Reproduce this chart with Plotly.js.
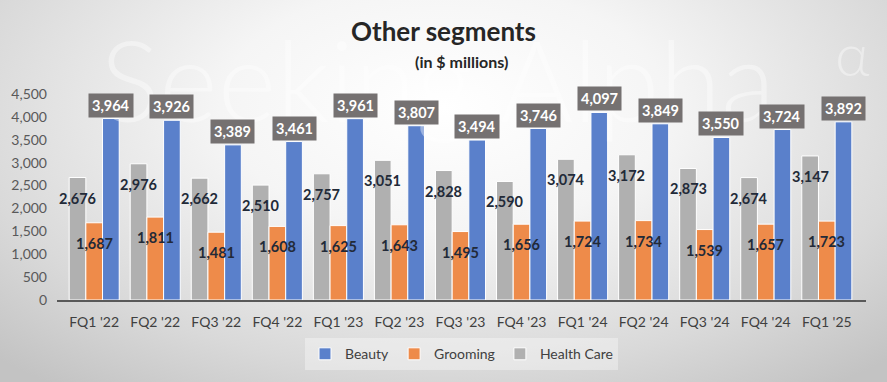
<!DOCTYPE html>
<html>
<head>
<meta charset="utf-8">
<script src="https://cdn.plot.ly/plotly-3.0.1.min.js"></script>
<style>
html,body{margin:0;padding:0;}
body{width:887px;height:382px;overflow:hidden;
background: radial-gradient(ellipse 72% 92% at 50% 28%, #ffffff 0%, #f5f5f5 35%, #d9d9d9 75%, #c3c3c3 100%);}
#chart{width:887px;height:382px;}
</style>
</head>
<body>
<div id="chart"></div>
<script>
var quarters = ["FQ1 '22","FQ2 '22","FQ3 '22","FQ4 '22","FQ1 '23","FQ2 '23","FQ3 '23","FQ4 '23","FQ1 '24","FQ2 '24","FQ3 '24","FQ4 '24","FQ1 '25"];
var beauty = [3964,3926,3389,3461,3961,3807,3494,3746,4097,3849,3550,3724,3892];
var grooming = [1687,1811,1481,1608,1625,1643,1495,1656,1724,1734,1539,1657,1723];
var healthCare = [2676,2976,2662,2510,2757,3051,2828,2590,3074,3172,2873,2674,3147];

var FONT = "Lato, 'Open Sans', sans-serif";
var bargap = 0.18;
var off = (1 - bargap) / 3;

function fmt(v){ return v.toLocaleString('en-US'); }

var traces = [
  {type:'bar', name:'Health Care', x:quarters, y:healthCare,
   marker:{color:'#b0b0b0', line:{color:'#ffffff', width:1}}, hoverinfo:'skip'},
  {type:'bar', name:'Grooming', x:quarters, y:grooming,
   marker:{color:'#ee8b4a', line:{color:'#ffffff', width:1}}, hoverinfo:'skip'},
  {type:'bar', name:'Beauty', x:quarters, y:beauty,
   marker:{color:'#5a80cb', line:{color:'#ffffff', width:1}}, hoverinfo:'skip'}
];

var annotations = [];
// watermark
annotations.push({xref:'paper', yref:'paper', x:0.47, y:(303-78)/209, xanchor:'center', yanchor:'middle',
  text:'Seeking Alpha', showarrow:false,
  font:{family:FONT, size:112, weight:300, color:'rgba(255,255,255,0.4)'}});
annotations.push({xref:'paper', yref:'paper', x:(852-57)/809, y:(303-52)/209, xanchor:'center', yanchor:'middle',
  text:'α', showarrow:false,
  font:{family:FONT, size:60, weight:300, color:'rgba(255,255,255,0.4)'}});
// subtitle
annotations.push({xref:'paper', yref:'paper', x:0.5, y:(303-61)/209, xanchor:'center', yanchor:'middle',
  text:'<b>(in $ millions)</b>', showarrow:false,
  font:{family:FONT, size:16, color:'#262626'}});

for (var i = 0; i < quarters.length; i++) {
  annotations.push({x:i - off, y:healthCare[i], xref:'x', yref:'y', xanchor:'center', yanchor:'top',
    yshift:-10, text:'<b>'+fmt(healthCare[i])+'</b>', showarrow:false,
    font:{family:FONT, size:14.5, color:'#222a38'}});
  annotations.push({x:i, y:grooming[i], xref:'x', yref:'y', xanchor:'center', yanchor:'top',
    yshift:-10, text:'<b>'+fmt(grooming[i])+'</b>', showarrow:false,
    font:{family:FONT, size:14.5, color:'#222a38'}});
  annotations.push({x:i + off, y:beauty[i], xref:'x', yref:'y', xanchor:'center', yanchor:'bottom',
    yshift:1, text:'<b>'+fmt(beauty[i])+'</b>', showarrow:false,
    bgcolor:'#757171', borderpad:3,
    font:{family:FONT, size:14.5, color:'#ffffff'}});
}

var layout = {
  width:887, height:382,
  paper_bgcolor:'rgba(0,0,0,0)', plot_bgcolor:'rgba(0,0,0,0)',
  margin:{l:57, r:21, t:94, b:79},
  barmode:'group', bargap:bargap, bargroupgap:0,
  showlegend:true,
  title:{text:'<b>Other segments</b>', x:0.5, xanchor:'center', y:1-32/382, yanchor:'middle',
    font:{family:FONT, size:26, color:'#262626'}},
  font:{family:FONT},
  xaxis:{type:'category', showline:true, linecolor:'#595959', linewidth:2, ticks:'',
    ticklabelstandoff:8,
    showgrid:false, tickfont:{family:FONT, size:14, color:'#404040'}, automargin:false},
  yaxis:{range:[0,4500], dtick:500, tickformat:',d', showgrid:false, zeroline:false,
    ticklabelstandoff:9,
    showline:false, ticks:'', tickfont:{family:FONT, size:14, color:'#595959'}, automargin:false},
  legend:{orientation:'h', x:0.5, xanchor:'center', y:(303-358)/209, yanchor:'middle',
    traceorder:'reversed', bgcolor:'rgba(255,255,255,0.35)', borderwidth:0,
    font:{family:FONT, size:14, color:'#404040'}, itemwidth:30},
  annotations:annotations
};

Plotly.newPlot('chart', traces, layout, {displayModeBar:false, staticPlot:true});
</script>
</body>
</html>
